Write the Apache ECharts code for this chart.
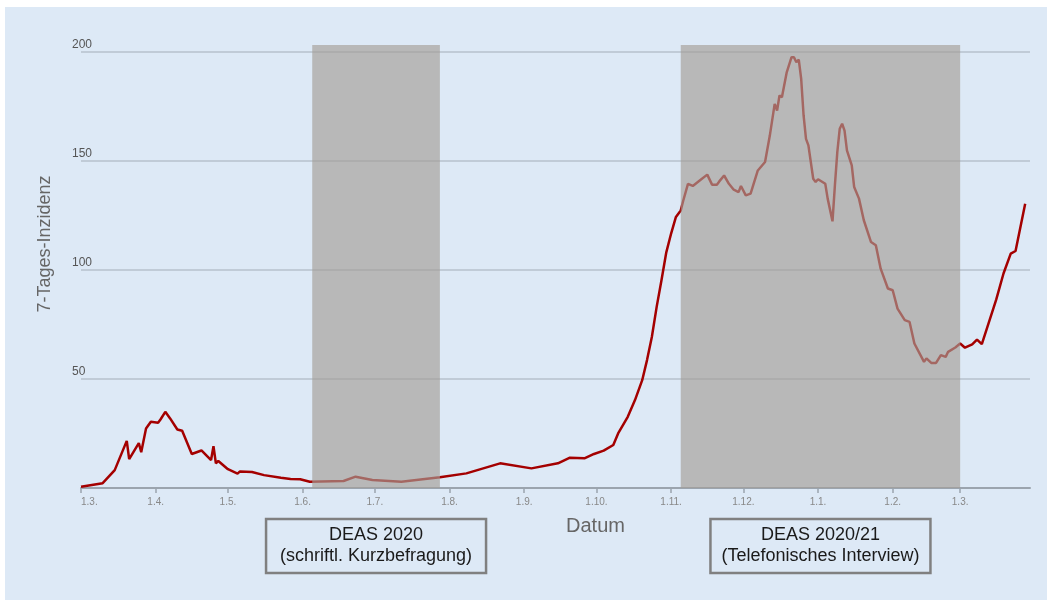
<!DOCTYPE html>
<html>
<head>
<meta charset="utf-8">
<script src="https://cdn.jsdelivr.net/npm/echarts@6/dist/echarts.min.js"></script>
<style>
  html, body { margin: 0; padding: 0; background: #fff; }
  #bg { position: absolute; left: 5px; top: 7px; width: 1042px; height: 593px; background: #dde9f6; }
  #chart { position: absolute; left: 0; top: 0; width: 1052px; height: 607px; }
</style>
</head>
<body>
<div id="bg"></div>
<div id="chart"></div>
<script>
// axis range (daily categories)
const axisStart = Date.UTC(2020, 2, 1);
const axisEnd = Date.UTC(2021, 2, 30);

// 7-Tages-Inzidenz
const incidence = [
  ['2020-03-01', 0.6], ['2020-03-10', 2.2], ['2020-03-15', 8.2], ['2020-03-20', 21.6],
  ['2020-03-21', 13.2], ['2020-03-25', 20.6], ['2020-03-26', 16.4], ['2020-03-28', 27.3],
  ['2020-03-30', 30.4], ['2020-04-02', 29.9], ['2020-04-03', 31.4], ['2020-04-05', 34.9],
  ['2020-04-07', 31.9], ['2020-04-10', 26.8], ['2020-04-12', 26.2], ['2020-04-16', 15.6],
  ['2020-04-20', 17.2], ['2020-04-24', 12.8], ['2020-04-25', 19.2], ['2020-04-26', 11.3],
  ['2020-04-27', 12.4], ['2020-05-01', 8.6], ['2020-05-05', 6.6], ['2020-05-06', 7.6],
  ['2020-05-11', 7.3], ['2020-05-16', 5.9], ['2020-05-23', 4.7], ['2020-05-27', 4.1],
  ['2020-05-31', 4.0], ['2020-06-04', 2.9], ['2020-06-18', 3.2], ['2020-06-23', 5.2],
  ['2020-06-30', 3.7], ['2020-07-12', 2.9], ['2020-07-28', 4.9], ['2020-08-08', 6.7],
  ['2020-08-22', 11.3], ['2020-09-04', 9.0], ['2020-09-15', 11.3], ['2020-09-20', 13.9],
  ['2020-09-26', 13.6], ['2020-09-30', 15.6], ['2020-10-04', 17.1], ['2020-10-08', 19.7],
  ['2020-10-10', 25.0], ['2020-10-14', 32.6], ['2020-10-17', 40.3], ['2020-10-20', 49.4],
  ['2020-10-22', 58.6], ['2020-10-24', 69.2], ['2020-10-26', 83.0], ['2020-10-28', 95.2],
  ['2020-10-30', 108.0], ['2020-11-01', 116.6], ['2020-11-03', 124.2], ['2020-11-05', 127.2],
  ['2020-11-06', 131.5], ['2020-11-08', 139.4], ['2020-11-10', 138.4], ['2020-11-13', 141.0],
  ['2020-11-16', 143.6], ['2020-11-18', 139.0], ['2020-11-20', 139.0], ['2020-11-21', 140.5],
  ['2020-11-23', 143.2], ['2020-11-25', 139.4], ['2020-11-27', 136.7], ['2020-11-29', 135.6],
  ['2020-11-30', 138.4], ['2020-12-02', 134.1], ['2020-12-04', 134.9], ['2020-12-07', 145.5],
  ['2020-12-10', 149.4], ['2020-12-12', 161.6], ['2020-12-14', 176.0], ['2020-12-15', 173.0],
  ['2020-12-16', 179.9], ['2020-12-17', 179.1], ['2020-12-19', 190.5], ['2020-12-21', 197.4],
  ['2020-12-22', 197.4], ['2020-12-23', 195.1], ['2020-12-24', 196.3], ['2020-12-25', 187.5],
  ['2020-12-26', 170.7], ['2020-12-27', 160.0], ['2020-12-28', 157.0], ['2020-12-30', 141.7],
  ['2020-12-31', 140.2], ['2021-01-01', 141.5], ['2021-01-04', 139.4], ['2021-01-05', 132.6],
  ['2021-01-07', 122.2], ['2021-01-08', 138.7], ['2021-01-09', 153.9], ['2021-01-10', 164.6],
  ['2021-01-11', 166.9], ['2021-01-12', 163.8], ['2021-01-13', 154.7], ['2021-01-15', 147.8],
  ['2021-01-16', 137.9], ['2021-01-18', 132.6], ['2021-01-20', 122.7], ['2021-01-23', 112.7],
  ['2021-01-25', 111.2], ['2021-01-27', 100.5], ['2021-01-30', 91.4], ['2021-02-01', 90.6],
  ['2021-02-03', 82.2], ['2021-02-06', 76.9], ['2021-02-08', 76.1], ['2021-02-10', 66.2],
  ['2021-02-14', 57.8], ['2021-02-15', 59.4], ['2021-02-17', 57.3], ['2021-02-19', 57.3],
  ['2021-02-21', 60.9], ['2021-02-23', 60.1], ['2021-02-24', 62.4], ['2021-02-27', 64.4],
  ['2021-03-01', 66.2], ['2021-03-03', 64.3], ['2021-03-06', 65.8], ['2021-03-08', 68.0],
  ['2021-03-10', 65.9], ['2021-03-15', 83.0], ['2021-03-16', 86.4], ['2021-03-19', 98.3],
  ['2021-03-22', 107.4], ['2021-03-24', 108.6], ['2021-03-28', 130.3]
];

// survey field periods (gray areas)
const surveyPeriods = [
  ['2020-06-05', '2020-07-28', 'DEAS 2020\n(schriftl. Kurzbefragung)'],
  ['2020-11-05', '2021-03-01', 'DEAS 2020/21\n(Telefonisches Interview)']
];

const yMax = 203;
const yStep = 50;

const days = [];
for (let t = axisStart; t <= axisEnd; t += 86400000) {
  days.push(new Date(t).toISOString().slice(0, 10));
}

const isMonthStart = (idx, val) => val.slice(8) === '01';
const font = '"Liberation Sans", Arial, sans-serif';

const chart = echarts.init(document.getElementById('chart'));

const option = {
  animation: false,
  textStyle: { fontFamily: font },
  grid: { left: 81, right: 22, top: 45, bottom: 119, containLabel: false },
  xAxis: {
    type: 'category',
    data: days,
    boundaryGap: false,
    name: 'Datum',
    nameLocation: 'middle',
    nameGap: 28,
    nameTextStyle: { fontSize: 20, color: '#666', padding: [0, 0, 0, 80] },
    axisLine: { lineStyle: { color: '#9ba4ae', width: 2 } },
    axisTick: { interval: isMonthStart, length: 5, lineStyle: { color: '#9ba4ae', width: 1.5 } },
    axisLabel: {
      interval: isMonthStart,
      formatter: v => (+v.slice(8)) + '.' + (+v.slice(5, 7)) + '.',
      color: '#888',
      fontSize: 10,
      margin: 9,
      alignMinLabel: 'left'
    },
    splitLine: { show: false }
  },
  yAxis: {
    type: 'value',
    min: 0,
    max: yMax,
    interval: yStep,
    name: '7-Tages-Inzidenz',
    nameLocation: 'middle',
    nameRotate: 90,
    nameGap: 27,
    nameTextStyle: { fontSize: 18, color: '#666', padding: [0, 0, 0, 45] },
    axisLine: { show: false },
    axisTick: { show: false },
    axisLabel: {
      align: 'left',
      verticalAlign: 'bottom',
      margin: 9,
      color: '#555',
      fontSize: 12,
      padding: [0, 0, 1, 0],
      showMaxLabel: false,
      formatter: v => (v > 0 && v % yStep === 0) ? String(v) : ''
    },
    splitLine: {
      showMinLine: false,
      showMaxLine: false,
      lineStyle: { color: '#b6c1cd', width: 1.5 }
    }
  },
  series: [
    {
      type: 'line',
      data: incidence,
      symbol: 'none',
      lineStyle: { color: '#a40000', width: 2.5 },
      markArea: {
        silent: true,
        z: 10,
        itemStyle: { color: 'rgba(164,158,151,0.65)' },
        label: {
          show: true,
          position: 'bottom',
          distance: 31,
          formatter: '{b}',
          color: '#1a1a1a',
          fontSize: 18,
          lineHeight: 21,
          fontFamily: font,
          align: 'center',
          width: 200,
          overflow: 'none',
          padding: [6, 10],
          borderColor: '#808080',
          borderWidth: 2.5
        },
        data: surveyPeriods.map(([from, to, label]) => [
          { xAxis: from, name: label },
          { xAxis: to }
        ])
      }
    }
  ]
};

chart.setOption(option);
</script>
</body>
</html>
